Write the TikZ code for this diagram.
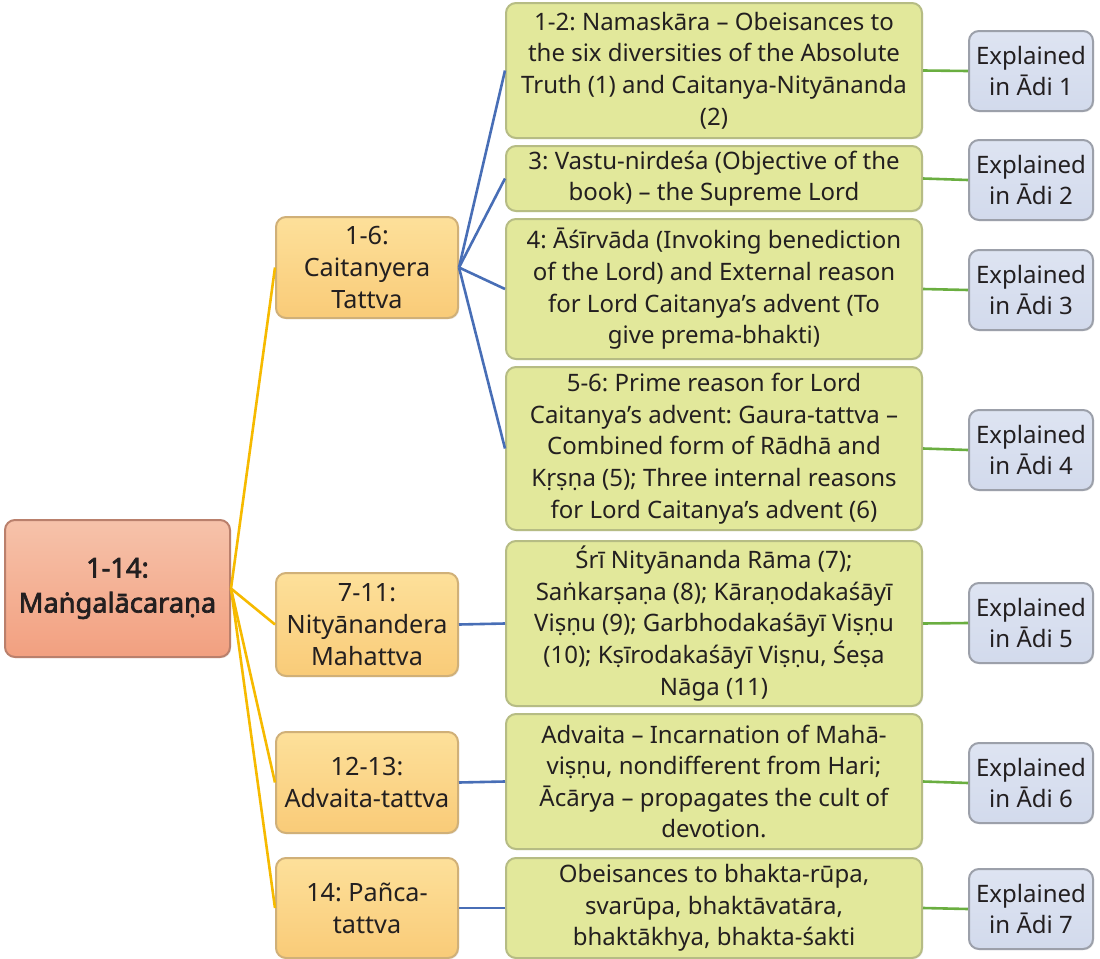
\documentclass[tikz,border=0pt]{standalone}
\usepackage{fontspec}
\setmainfont{Noto Sans}[AutoFakeBold=2.5]
\usetikzlibrary{shadows}
\frenchspacing

\definecolor{txt}{RGB}{35,31,32}
\definecolor{rootTop}{RGB}{246,194,170}
\definecolor{rootBot}{RGB}{242,160,128}
\definecolor{rootLine}{RGB}{186,128,108}
\definecolor{midTop}{RGB}{253,224,154}
\definecolor{midBot}{RGB}{249,203,120}
\definecolor{midLine}{RGB}{208,176,120}
\definecolor{leafFill}{RGB}{226,232,155}
\definecolor{leafLine}{RGB}{182,188,132}
\definecolor{refTop}{RGB}{222,228,242}
\definecolor{refBot}{RGB}{210,218,236}
\definecolor{refLine}{RGB}{156,160,170}
\definecolor{yellowLink}{RGB}{246,186,0}
\definecolor{blueLink}{RGB}{72,110,182}
\definecolor{greenLink}{RGB}{106,174,64}

\begin{document}
\begin{tikzpicture}[x=0.5pt,y=-0.5pt,
  box/.style={rectangle, rounded corners=5pt, line width=1pt, align=center,
    inner sep=1pt, text=txt, font=\fontsize{12}{15.8}\selectfont,
    drop shadow={opacity=0.18, shadow xshift=0.6pt, shadow yshift=-0.6pt}},
  rootbox/.style={box, top color=rootTop, bottom color=rootBot, draw=rootLine,
    minimum width=112.5pt, minimum height=68.5pt,
    font=\fontsize{13.6}{17.5}\selectfont\bfseries},
  midbox/.style={box, top color=midTop, bottom color=midBot, draw=midLine,
    minimum width=91pt, font=\fontsize{12.6}{16}\selectfont},
  leafbox/.style={box, fill=leafFill, draw=leafLine, minimum width=208pt},
  refbox/.style={box, top color=refTop, bottom color=refBot, draw=refLine,
    minimum width=62pt, minimum height=40pt},
  ylink/.style={draw=yellowLink, line width=1.3pt},
  blink/.style={draw=blueLink, line width=1.3pt},
  glink/.style={draw=greenLink, line width=1.3pt}
]
\useasboundingbox (0,0) rectangle (1100,959);

% root
\node[rootbox] (root) at (117.5,588.5) {1-14:\\Maṅgalācaraṇa};

% second level
\node[midbox, minimum height=50.5pt] (m1) at (367,267.5) {1-6:\\Caitanyera\\Tattva};
\node[midbox, minimum height=51.5pt] (m2) at (367,624.5) {7-11:\\Nityānandera\\Mahattva};
\node[midbox, minimum height=50.5pt] (m3) at (367,782.5) {12-13:\\Advaita-tattva};
\node[midbox, minimum height=50pt]   (m4) at (367,908)   {14: Pañca-\\tattva};

% verse summaries
\node[leafbox, minimum height=67.5pt] (g1) at (714,70.5)
  {1-2: Namaskāra – Obeisances to\\the six diversities of the Absolute\\Truth (1) and Caitanya-Nityānanda\\(2)};
\node[leafbox, minimum height=32.5pt] (g2) at (714,178.5)
  {3: Vastu-nirdeśa (Objective of the\\book) – the Supreme Lord};
\node[leafbox, minimum height=70pt] (g3) at (714,289)
  {4: Āśīrvāda (Invoking benediction\\of the Lord) and External reason\\for Lord Caitanya’s advent (To\\give prema-bhakti)};
\node[leafbox, minimum height=81.5pt] (g4) at (714,448.5)
  {5-6: Prime reason for Lord\\Caitanya’s advent: Gaura-tattva –\\Combined form of Rādhā and\\Kṛṣṇa (5); Three internal reasons\\for Lord Caitanya’s advent (6)};
\node[leafbox, minimum height=82.5pt] (g5) at (714,623.5)
  {Śrī Nityānanda Rāma (7);\\Saṅkarṣaṇa (8); Kāraṇodakaśāyī\\Viṣṇu (9); Garbhodakaśāyī Viṣṇu\\(10); Kṣīrodakaśāyī Viṣṇu, Śeṣa\\Nāga (11)};
\node[leafbox, minimum height=67.5pt] (g6) at (714,781.5)
  {Advaita – Incarnation of Mahā-\\viṣṇu, nondifferent from Hari;\\Ācārya – propagates the cult of\\devotion.};
\node[leafbox, minimum height=50pt] (g7) at (714,908)
  {Obeisances to bhakta-rūpa,\\svarūpa, bhaktāvatāra,\\bhaktākhya, bhakta-śakti};

% chapter references
\node[refbox] (e1) at (1031,71)  {Explained\\in Ādi 1};
\node[refbox] (e2) at (1031,180) {Explained\\in Ādi 2};
\node[refbox] (e3) at (1031,290) {Explained\\in Ādi 3};
\node[refbox] (e4) at (1031,450) {Explained\\in Ādi 4};
\node[refbox] (e5) at (1031,623) {Explained\\in Ādi 5};
\node[refbox] (e6) at (1031,783) {Explained\\in Ādi 6};
\node[refbox] (e7) at (1031,909) {Explained\\in Ādi 7};

% connectors
\foreach \m in {m1,m2,m3,m4}
  \draw[ylink] (root.east) -- (\m.west);
\foreach \g in {g1,g2,g3,g4}
  \draw[blink] (m1.east) -- (\g.west);
\draw[blink] (m2.east) -- (g5.west);
\draw[blink] (m3.east) -- (g6.west);
\draw[blink] (m4.east) -- (g7.west);
\foreach \i in {1,...,7}
  \draw[glink] (g\i.east) -- (e\i.west);
\end{tikzpicture}
\end{document}
